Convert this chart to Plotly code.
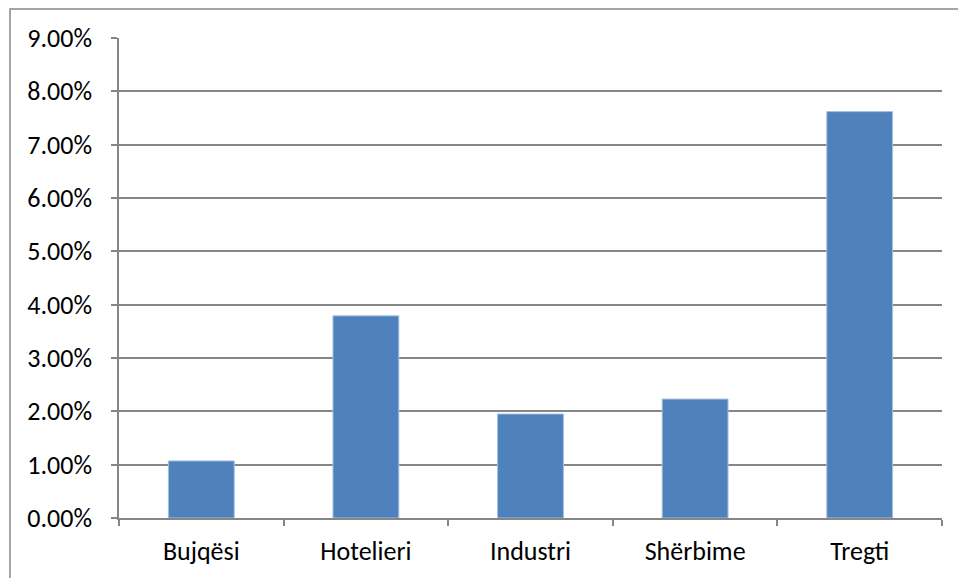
import plotly.graph_objects as go

categories = ["Bujqësi", "Hotelieri", "Industri", "Shërbime", "Tregti"]
values = [0.0107, 0.0379, 0.0195, 0.0223, 0.0762]
tick_vals = [0, 0.01, 0.02, 0.03, 0.04, 0.05, 0.06, 0.07, 0.08, 0.09]
tick_text = ["0.00%", "1.00%", "2.00%", "3.00%", "4.00%", "5.00%", "6.00%", "7.00%", "8.00%", "9.00%"]

W, H = 958, 578
L, R, T, B = 119, 16, 38, 60
pw, ph = W - L - R, H - T - B

fig = go.Figure(go.Bar(
    x=categories, y=values,
    marker=dict(color="#4F81BD", line=dict(color="#A7BFDE", width=1)),
))

grid = "#868686"
fig.update_layout(
    width=W, height=H,
    margin=dict(l=L, r=R, t=T, b=B, pad=0, autoexpand=False),
    paper_bgcolor="white", plot_bgcolor="white",
    bargap=0.6,
    showlegend=False,
    font=dict(family="Carlito, Liberation Sans, Arial", size=26, color="black"),
    xaxis=dict(
        type="category", tickson="boundaries", ticks="outside", ticklen=6,
        tickcolor=grid, tickwidth=1.5, automargin=False,
        showline=True, linecolor=grid, linewidth=1.5,
        showgrid=False, ticklabelstandoff=9,
    ),
    yaxis=dict(
        range=[0, 0.09], tickvals=tick_vals, ticktext=tick_text,
        ticks="outside", ticklen=6, tickcolor=grid, tickwidth=1.5,
        showline=True, linecolor=grid, linewidth=1.5, automargin=False,
        showgrid=True, gridcolor=grid, gridwidth=1.5,
        zeroline=False, ticklabelstandoff=14,
    ),
    shapes=[dict(
        type="rect", xref="paper", yref="paper", layer="below",
        x0=(10 - L) / pw, x1=(W + 5 - L) / pw,
        y0=(ph + T - (H + 5)) / ph, y1=(ph + T - 9) / ph,
        line=dict(color="#888888", width=1.5), fillcolor="rgba(0,0,0,0)",
    )],
)

fig.write_html("out.html")
